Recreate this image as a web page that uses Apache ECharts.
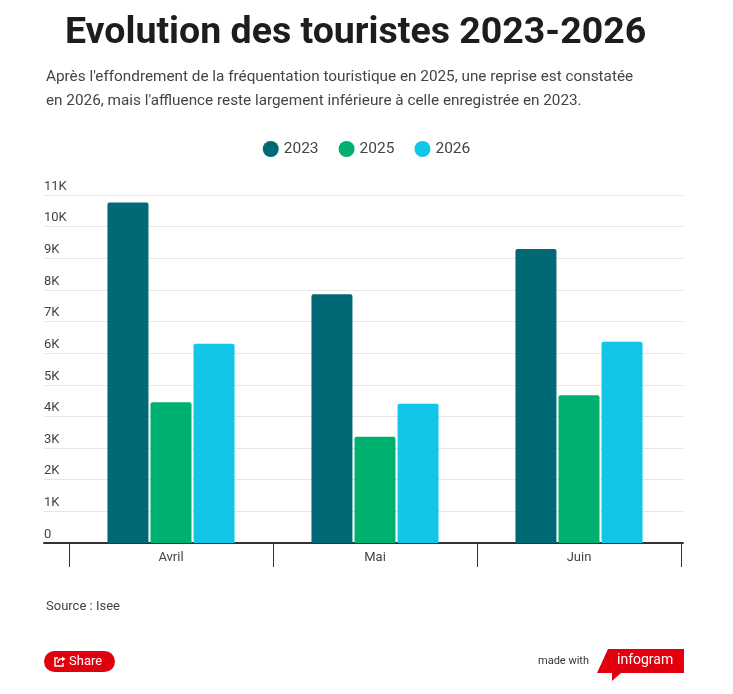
<!DOCTYPE html>
<html>
<head>
<meta charset="utf-8">
<script src="https://cdn.jsdelivr.net/npm/echarts@6/dist/echarts.min.js"></script>
<style>
  html, body { margin: 0; padding: 0; background: #fff; }
  #chart { width: 733px; height: 694px; }
</style>
</head>
<body>
<div id="chart"></div>
<script>
// data
var months = ['Avril', 'Mai', 'Juin'];
var years = ['2023', '2025', '2026'];
var v2023 = [10760, 7860, 9290];
var v2025 = [4450, 3360, 4670];
var v2026 = [6300, 4400, 6360];
var colors = ['#006975', '#00b06f', '#12c6e8'];

var myChart = echarts.init(document.getElementById('chart'));
var font = 'Roboto, "Noto Sans", sans-serif';
var red = '#e2000f';

var option = {
  animation: false,
  textStyle: { fontFamily: font },
  color: colors,
  title: [
    {
      text: 'Evolution des touristes 2023-2026',
      left: 60,
      top: 10,
      textStyle: { fontSize: 37.5, fontWeight: 'bold', color: '#1d1d1d', fontFamily: font }
    },
    {
      text: "Après l'effondrement de la fréquentation touristique en 2025, une reprise est constatée\nen 2026, mais l'affluence reste largement inférieure à celle enregistrée en 2023.",
      left: 41,
      top: 60,
      textStyle: { fontSize: 15.3, fontWeight: 'normal', color: '#444', lineHeight: 24, fontFamily: font }
    },
    {
      text: 'Source : Isee',
      left: 41,
      top: 595,
      textStyle: { fontSize: 13, fontWeight: 'normal', color: '#444', fontFamily: font }
    }
  ],
  legend: {
    data: years,
    top: 136,
    left: 'center',
    icon: 'circle',
    itemWidth: 16,
    itemHeight: 16,
    itemGap: 20,
    textStyle: { fontSize: 15.5, color: '#444', fontFamily: font }
  },
  grid: [
    { left: 44, right: 50, top: 195, bottom: 151 },
    { left: 69, right: 52, top: 195, bottom: 151 }
  ],
  xAxis: [
    {
      gridIndex: 0, type: 'value', min: 0, max: 1,
      axisLine: { show: true, lineStyle: { color: '#333', width: 2 } },
      axisTick: { show: false }, axisLabel: { show: false }, splitLine: { show: false }
    },
    {
      gridIndex: 1, type: 'category', data: months,
      axisLine: { show: false },
      axisTick: { show: true, length: 24, lineStyle: { color: '#333', width: 1 } },
      axisLabel: { fontSize: 13, color: '#444', margin: 8 }
    }
  ],
  yAxis: [
    {
      gridIndex: 0, type: 'value', min: 0, max: 11000, interval: 1000,
      axisLine: { show: false }, axisTick: { show: false },
      splitLine: { lineStyle: { color: '#e6e6e6', width: 1 } },
      axisLabel: {
        inside: true, margin: 0, align: 'left', verticalAlign: 'bottom',
        padding: [0, 0, 2, 0], fontSize: 13, color: '#444',
        formatter: function (v) { return v === 0 ? '0' : (v / 1000) + 'K'; }
      }
    },
    { gridIndex: 1, type: 'value', min: 0, max: 11000, interval: 1000, show: false }
  ],
  series: [
    { name: years[0], type: 'bar', xAxisIndex: 1, yAxisIndex: 1, data: v2023, barWidth: 41, barGap: '5%',
      itemStyle: { borderRadius: [2, 2, 0, 0] } },
    { name: years[1], type: 'bar', xAxisIndex: 1, yAxisIndex: 1, data: v2025, barWidth: 41, barGap: '5%',
      itemStyle: { borderRadius: [2, 2, 0, 0] } },
    { name: years[2], type: 'bar', xAxisIndex: 1, yAxisIndex: 1, data: v2026, barWidth: 41, barGap: '5%',
      itemStyle: { borderRadius: [2, 2, 0, 0] } }
  ],
  graphic: [
    // share button
    { type: 'rect', left: 44, top: 651, shape: { width: 71, height: 21, r: 10.5 }, style: { fill: red } },
    { type: 'polyline', shape: { points: [[58, 658], [55, 658], [55, 666], [63, 666], [63, 663]] },
      style: { stroke: '#fff', lineWidth: 1.4, fill: 'none' } },
    { type: 'polyline', shape: { points: [[58, 663], [58, 661], [60, 659], [64, 659]] },
      style: { stroke: '#fff', lineWidth: 1.4, fill: 'none' } },
    { type: 'polygon', shape: { points: [[62, 656.5], [65.5, 659], [62, 661.5]] }, style: { fill: '#fff' } },
    { type: 'text', left: 69, top: 655, style: { text: 'Share', fill: '#fff', font: '13px ' + font } },
    // made with infogram
    { type: 'text', left: 538, top: 656, style: { text: 'made with', fill: '#333', font: '11px ' + font } },
    { type: 'polygon', shape: { points: [[608, 649], [684, 649], [684, 673], [621, 673], [612, 681], [612, 673], [597, 673]] },
      style: { fill: red } },
    { type: 'text', left: 617, top: 653, style: { text: 'infogram', fill: '#fff', font: '14px ' + font } }
  ]
};

myChart.setOption(option);
</script>
</body>
</html>
